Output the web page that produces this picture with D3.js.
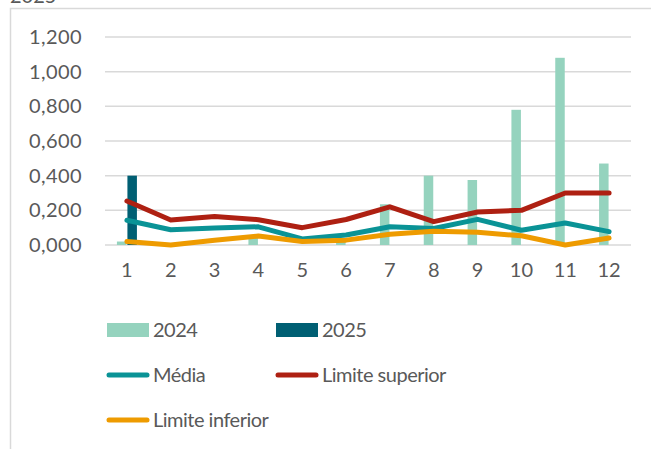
<!DOCTYPE html>
<html>
<head>
<meta charset="utf-8">
<script src="https://cdn.jsdelivr.net/npm/d3@7"></script>
<style>
  body { margin: 0; background: #fff; }
  svg { display: block; font-family: Lato, "Open Sans", sans-serif; }
</style>
</head>
<body>
<div id="chart"></div>
<script>
// data
const months = ["1", "2", "3", "4", "5", "6", "7", "8", "9", "10", "11", "12"];
const v2024 = [0.02, 0.01, 0.0, 0.045, 0.0, 0.02, 0.235, 0.40, 0.375, 0.78, 1.08, 0.47];
const v2025 = [0.40, null, null, null, null, null, null, null, null, null, null, null];
const media = [0.143, 0.088, 0.098, 0.105, 0.035, 0.058, 0.105, 0.095, 0.148, 0.085, 0.127, 0.077];
const limSup = [0.254, 0.144, 0.165, 0.146, 0.10, 0.147, 0.22, 0.135, 0.19, 0.20, 0.30, 0.30];
const limInf = [0.02, 0.0, 0.028, 0.052, 0.02, 0.028, 0.062, 0.08, 0.073, 0.053, 0.0, 0.04];
const yTicks = [0, 0.2, 0.4, 0.6, 0.8, 1.0, 1.2];

const W = 651, H = 449;
const colors = {
  y2024: "#95d3be",
  y2025: "#005f73",
  media: "#0a9396",
  sup: "#ae2012",
  inf: "#ee9b00"
};
const textColor = "#595959";

const svg = d3.select("#chart").append("svg")
  .attr("width", W)
  .attr("height", H);

// chart frame (runs off the window right and bottom)
svg.append("rect")
  .attr("x", 10.5).attr("y", 8.5)
  .attr("width", 700).attr("height", 500)
  .attr("fill", "none")
  .attr("stroke", "#d9d9d9")
  .attr("stroke-width", 1.5);

// title sits above the frame, mostly cut off like in the source
svg.append("text")
  .attr("x", 10).attr("y", 3)
  .attr("font-size", 20)
  .attr("fill", textColor)
  .text("2025");

const x = d3.scaleBand().domain(months).range([105, 631]);
const y = d3.scaleLinear().domain([0, 1.2]).range([245, 37]);
const barW = 9.5;

// comma as decimal separator, e.g. "1,200"
const fmtY = d => d3.format(".3f")(d).replace(".", ",");

// gridlines
svg.append("g")
  .selectAll("line")
  .data(yTicks)
  .join("line")
  .attr("x1", 105).attr("x2", 631)
  .attr("y1", d => y(d)).attr("y2", d => y(d))
  .attr("stroke", "#d9d9d9")
  .attr("stroke-width", 1.5);

// y axis labels
const yAxis = svg.append("g")
  .attr("transform", "translate(82,0)")
  .call(d3.axisLeft(y).tickValues(yTicks).tickFormat(fmtY).tickSize(0).tickPadding(0));
yAxis.select(".domain").remove();
yAxis.selectAll("text")
  .attr("font-size", 20)
  .attr("font-family", "Lato, sans-serif")
  .attr("letter-spacing", 0.4)
  .attr("fill", textColor);

// x axis labels
const xAxis = svg.append("g")
  .attr("transform", "translate(0,263)")
  .call(d3.axisBottom(x).tickSize(0).tickPadding(0));
xAxis.select(".domain").remove();
xAxis.selectAll("text")
  .attr("font-size", 20)
  .attr("font-family", "Lato, sans-serif")
  .attr("fill", textColor);

// bars
const cx = m => x(m) + x.bandwidth() / 2;
svg.append("g")
  .selectAll("rect")
  .data(months.map((m, i) => ({ m, v: v2024[i] })).filter(d => d.v > 0))
  .join("rect")
  .attr("x", d => cx(d.m) - barW - 0.5)
  .attr("y", d => y(d.v))
  .attr("width", barW)
  .attr("height", d => y(0) - y(d.v))
  .attr("fill", colors.y2024);

svg.append("g")
  .selectAll("rect")
  .data(months.map((m, i) => ({ m, v: v2025[i] })).filter(d => d.v != null))
  .join("rect")
  .attr("x", d => cx(d.m) + 0.5)
  .attr("y", d => y(d.v))
  .attr("width", barW)
  .attr("height", d => y(0) - y(d.v))
  .attr("fill", colors.y2025);

// lines
const line = d3.line()
  .x((d, i) => cx(months[i]))
  .y(d => y(d));

[[media, colors.media], [limSup, colors.sup], [limInf, colors.inf]].forEach(([vals, c]) => {
  svg.append("path")
    .datum(vals)
    .attr("d", line)
    .attr("fill", "none")
    .attr("stroke", c)
    .attr("stroke-width", 5)
    .attr("stroke-linejoin", "round")
    .attr("stroke-linecap", "round");
});

// legend
const legend = [
  { name: "2024", type: "bar", color: colors.y2024, x: 107, y: 330 },
  { name: "2025", type: "bar", color: colors.y2025, x: 276, y: 330 },
  { name: "Média", type: "line", color: colors.media, x: 107, y: 375 },
  { name: "Limite superior", type: "line", color: colors.sup, x: 276, y: 375 },
  { name: "Limite inferior", type: "line", color: colors.inf, x: 107, y: 420 }
];
const lg = svg.append("g")
  .selectAll("g")
  .data(legend)
  .join("g")
  .attr("transform", d => `translate(${d.x},${d.y})`);

lg.filter(d => d.type === "bar").append("rect")
  .attr("x", 0).attr("y", -7)
  .attr("width", 42).attr("height", 14)
  .attr("fill", d => d.color);

lg.filter(d => d.type === "line").append("line")
  .attr("x1", 2).attr("x2", 40)
  .attr("y1", 0).attr("y2", 0)
  .attr("stroke", d => d.color)
  .attr("stroke-width", 5)
  .attr("stroke-linecap", "round");

lg.append("text")
  .attr("x", 46).attr("y", 0)
  .attr("dy", "0.35em")
  .attr("font-size", 20)
  .attr("letter-spacing", -0.5)
  .attr("fill", textColor)
  .text(d => d.name);
</script>
</body>
</html>
